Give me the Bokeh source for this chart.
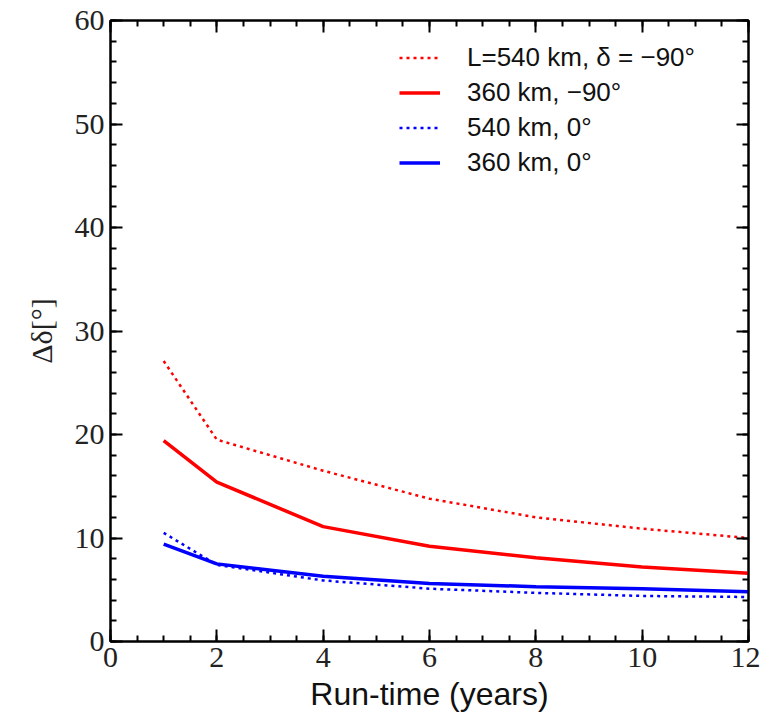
from bokeh.plotting import figure
from bokeh.models import LinearAxis, SingleIntervalTicker, Range1d, Legend, LegendItem, CustomJSTickFormatter
from bokeh.embed import file_html
from bokeh.resources import INLINE

years = [1, 2, 4, 6, 8, 10, 12]
red_540 = [27.1, 19.5, 16.5, 13.8, 12.0, 10.9, 10.0]
red_360 = [19.4, 15.4, 11.1, 9.2, 8.1, 7.2, 6.6]
blue_540 = [10.5, 7.4, 5.9, 5.1, 4.7, 4.4, 4.3]
blue_360 = [9.4, 7.5, 6.3, 5.6, 5.3, 5.1, 4.8]
labels = ["L=540 km, δ = −90°", "360 km, −90°", "540 km, 0°", "360 km, 0°"]

p = figure(width=760, height=718, output_backend="svg", toolbar_location=None,
           x_range=Range1d(0, 12), y_range=Range1d(0, 60),
           min_border_left=110, min_border_right=12, min_border_top=20, min_border_bottom=77)
p.grid.visible = False
p.outline_line_color = "black"
p.outline_line_width = 2

r1 = p.line(years, red_540, line_color="#ff0000", line_width=2.5, line_dash="3 4")
r2 = p.line(years, red_360, line_color="#ff0000", line_width=3.5)
r3 = p.line(years, blue_540, line_color="#0000ff", line_width=2.5, line_dash="3 4")
r4 = p.line(years, blue_360, line_color="#0000ff", line_width=3.5)

def style(ax, show_labels=True):
    ax.axis_line_width = 2
    ax.major_tick_in = 12
    ax.major_tick_out = 0
    ax.minor_tick_in = 6
    ax.minor_tick_out = 0
    ax.major_tick_line_width = 2
    ax.minor_tick_line_width = 2
    ax.major_label_text_font = "Liberation Serif"
    ax.major_label_text_font_size = "30px"
    ax.major_label_text_color = "#222222"
    ax.major_label_standoff = 6
    if not show_labels:
        ax.formatter = CustomJSTickFormatter(code="return '';")

p.xaxis.ticker = SingleIntervalTicker(interval=2, num_minor_ticks=4)
p.yaxis.ticker = SingleIntervalTicker(interval=10, num_minor_ticks=5)
style(p.xaxis[0])
style(p.yaxis[0])
p.xaxis.axis_label = "Run-time (years)"
p.xaxis.axis_label_text_font = "Liberation Sans"
p.xaxis.axis_label_text_font_style = "normal"
p.xaxis.axis_label_text_font_size = "32px"
p.xaxis.axis_label_text_color = "#111111"
p.xaxis.axis_label_standoff = 6
p.yaxis.axis_label = "Δδ[°]"
p.yaxis.axis_label_text_font = "Liberation Serif"
p.yaxis.axis_label_text_font_style = "normal"
p.yaxis.axis_label_text_font_size = "30px"
p.yaxis.axis_label_text_color = "#222222"
p.yaxis.axis_label_standoff = 14

top = LinearAxis(ticker=SingleIntervalTicker(interval=2, num_minor_ticks=4))
right = LinearAxis(ticker=SingleIntervalTicker(interval=10, num_minor_ticks=5))
style(top, False)
style(right, False)
p.add_layout(top, "above")
p.add_layout(right, "right")

legend = Legend(items=[LegendItem(label=labels[0], renderers=[r1]),
                       LegendItem(label=labels[1], renderers=[r2]),
                       LegendItem(label=labels[2], renderers=[r3]),
                       LegendItem(label=labels[3], renderers=[r4])],
                location=(289, 461))
legend.border_line_color = None
legend.background_fill_alpha = 0
legend.label_text_font = "Liberation Sans"
legend.label_text_font_size = "26px"
legend.label_text_color = "#111111"
legend.glyph_width = 41
legend.glyph_height = 35
legend.label_height = 35
legend.label_standoff = 27
legend.spacing = 0
legend.margin = 0
legend.padding = 6
p.add_layout(legend, "center")

open("out.html", "w").write(file_html(p, INLINE))
